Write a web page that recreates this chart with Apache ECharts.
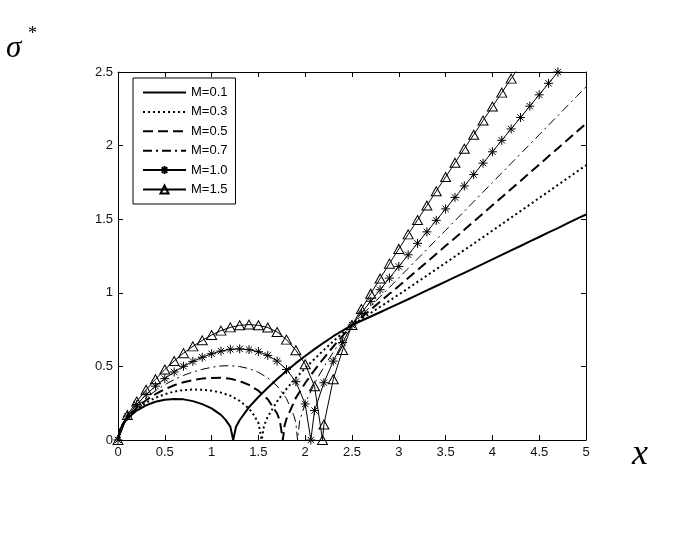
<!DOCTYPE html>
<html><head><meta charset="utf-8">
<script src="https://cdn.jsdelivr.net/npm/echarts@6/dist/echarts.min.js"></script>
<style>html,body{margin:0;padding:0;background:#fff}#c{width:685px;height:536px}</style>
</head><body><div id="c"></div>
<script>
// ---- data: [x, sigma*] ----
const seriesNames = ['M=0.1', 'M=0.3', 'M=0.5', 'M=0.7', 'M=1.0', 'M=1.5'];
const m01 = [[0,0],[0.02,0.066],[0.05,0.104],[0.1,0.147],[0.2,0.200],[0.3,0.235],[0.4,0.260],[0.5,0.274],[0.6,0.279],[0.7,0.276],[0.8,0.264],[0.9,0.244],[1.0,0.215],[1.1,0.171],[1.15,0.137],[1.2,0.091],[1.231,0],[1.26,0.088],[1.3,0.136],[1.4,0.223],[1.5,0.292],[1.6,0.355],[1.7,0.414],[1.8,0.469],[1.9,0.522],[2.0,0.571],[2.1,0.617],[2.2,0.662],[2.3,0.705],[2.4,0.743],[2.5,0.781],[2.6,0.810],[2.7,0.839],[2.8,0.868],[2.9,0.897],[3.0,0.927],[3.1,0.956],[3.2,0.986],[3.3,1.016],[3.4,1.046],[3.5,1.076],[3.6,1.106],[3.7,1.136],[3.8,1.166],[3.9,1.196],[4.0,1.227],[4.1,1.257],[4.2,1.288],[4.3,1.318],[4.4,1.349],[4.5,1.379],[4.6,1.410],[4.7,1.440],[4.8,1.471],[4.9,1.502],[5.0,1.532]];
const m03 = [[0,0],[0.02,0.067],[0.05,0.106],[0.1,0.150],[0.2,0.210],[0.3,0.253],[0.4,0.287],[0.5,0.311],[0.6,0.329],[0.7,0.339],[0.8,0.343],[0.9,0.341],[1.0,0.335],[1.1,0.322],[1.2,0.301],[1.3,0.266],[1.4,0.213],[1.45,0.171],[1.5,0.116],[1.535,0],[1.56,0.098],[1.6,0.158],[1.7,0.263],[1.8,0.347],[1.9,0.421],[2.0,0.488],[2.1,0.551],[2.2,0.612],[2.3,0.671],[2.4,0.726],[2.5,0.781],[2.6,0.822],[2.7,0.863],[2.8,0.904],[2.9,0.946],[3.0,0.988],[3.1,1.031],[3.2,1.074],[3.3,1.117],[3.4,1.160],[3.5,1.203],[3.6,1.247],[3.7,1.291],[3.8,1.334],[3.9,1.378],[4.0,1.422],[4.1,1.466],[4.2,1.511],[4.3,1.555],[4.4,1.599],[4.5,1.644],[4.6,1.688],[4.7,1.733],[4.8,1.777],[4.9,1.822],[5.0,1.867]];
const m05 = [[0,0],[0.02,0.068],[0.05,0.108],[0.1,0.154],[0.2,0.219],[0.3,0.270],[0.4,0.311],[0.5,0.345],[0.6,0.372],[0.7,0.392],[0.8,0.407],[0.9,0.417],[1.0,0.422],[1.1,0.423],[1.2,0.416],[1.3,0.400],[1.4,0.374],[1.5,0.335],[1.6,0.277],[1.7,0.180],[1.73,0.129],[1.761,0],[1.78,0.100],[1.8,0.143],[1.9,0.286],[2.0,0.387],[2.1,0.475],[2.2,0.557],[2.3,0.635],[2.4,0.708],[2.5,0.781],[2.6,0.833],[2.7,0.886],[2.8,0.939],[2.9,0.993],[3.0,1.046],[3.1,1.101],[3.2,1.155],[3.3,1.209],[3.4,1.264],[3.5,1.319],[3.6,1.373],[3.7,1.428],[3.8,1.484],[3.9,1.539],[4.0,1.594],[4.1,1.649],[4.2,1.705],[4.3,1.760],[4.4,1.816],[4.5,1.871],[4.6,1.927],[4.7,1.982],[4.8,2.038],[4.9,2.094],[5.0,2.149]];
const m07 = [[0,0],[0.02,0.070],[0.05,0.111],[0.1,0.157],[0.2,0.228],[0.3,0.286],[0.4,0.334],[0.5,0.376],[0.6,0.410],[0.7,0.439],[0.8,0.462],[0.9,0.480],[1.0,0.494],[1.1,0.503],[1.2,0.505],[1.3,0.499],[1.4,0.485],[1.5,0.460],[1.6,0.422],[1.7,0.367],[1.8,0.282],[1.88,0.164],[1.9,0.118],[1.918,0],[1.94,0.128],[2.0,0.249],[2.1,0.385],[2.2,0.497],[2.3,0.597],[2.4,0.690],[2.5,0.781],[2.6,0.845],[2.7,0.909],[2.8,0.973],[2.9,1.037],[3.0,1.101],[3.1,1.166],[3.2,1.230],[3.3,1.295],[3.4,1.360],[3.5,1.425],[3.6,1.489],[3.7,1.554],[3.8,1.619],[3.9,1.684],[4.0,1.749],[4.1,1.814],[4.2,1.879],[4.3,1.944],[4.4,2.009],[4.5,2.074],[4.6,2.139],[4.7,2.204],[4.8,2.269],[4.9,2.334],[5.0,2.399]];
const m10 = [[0,0],[0.1,0.162],[0.2,0.241],[0.3,0.308],[0.4,0.366],[0.5,0.417],[0.6,0.462],[0.7,0.501],[0.8,0.534],[0.9,0.562],[1.0,0.586],[1.1,0.604],[1.2,0.616],[1.3,0.619],[1.4,0.614],[1.5,0.600],[1.6,0.575],[1.7,0.536],[1.8,0.479],[1.9,0.396],[2.0,0.245],[2.06,0],[2.1,0.200],[2.2,0.389],[2.3,0.536],[2.4,0.662],[2.5,0.781],[2.6,0.862],[2.7,0.942],[2.8,1.021],[2.9,1.100],[3.0,1.179],[3.1,1.258],[3.2,1.336],[3.3,1.414],[3.4,1.492],[3.5,1.570],[3.6,1.648],[3.7,1.726],[3.8,1.803],[3.9,1.881],[4.0,1.958],[4.1,2.036],[4.2,2.113],[4.3,2.191],[4.4,2.268],[4.5,2.345],[4.6,2.423],[4.7,2.500],[4.8,2.577]];
const m15 = [[0,0],[0.1,0.170],[0.2,0.261],[0.3,0.341],[0.4,0.413],[0.5,0.479],[0.6,0.537],[0.7,0.590],[0.8,0.636],[0.9,0.677],[1.0,0.713],[1.1,0.743],[1.2,0.765],[1.3,0.779],[1.4,0.784],[1.5,0.779],[1.6,0.764],[1.7,0.734],[1.8,0.682],[1.9,0.610],[2.0,0.515],[2.1,0.365],[2.185,0],[2.2,0.105],[2.3,0.413],[2.4,0.612],[2.5,0.781],[2.6,0.889],[2.7,0.994],[2.8,1.097],[2.9,1.198],[3.0,1.298],[3.1,1.397],[3.2,1.495],[3.3,1.593],[3.4,1.690],[3.5,1.787],[3.6,1.883],[3.7,1.979],[3.8,2.074],[3.9,2.170],[4.0,2.265],[4.1,2.360],[4.2,2.455],[4.3,2.549]];
const xRange = [0, 5, 0.5];
const yRange = [0, 2.5, 0.5];

const asterisk = 'path://M5,0L5,10M0,5L10,5M1.5,1.5L8.5,8.5M8.5,1.5L1.5,8.5';
const FONT = 'Liberation Sans, Arial, sans-serif';

const chart = echarts.init(document.getElementById('c'), null, {renderer: 'canvas'});
const tickCommon = {show: true, inside: true, length: 5, lineStyle: {color: '#000', width: 1}};
const lineCommon = {show: true, onZero: false, lineStyle: {color: '#000', width: 1}};
function lineSeries(name, data, lineStyle, extra) {
  return Object.assign({
    name: name, type: 'line', data: data, xAxisIndex: 0, yAxisIndex: 0,
    symbol: 'none', clip: true, smooth: false,
    lineStyle: Object.assign({color: '#000'}, lineStyle),
    itemStyle: {color: '#000'},
    emphasis: {disabled: true}
  }, extra || {});
}
const hiddenMark = {color: 'rgba(0,0,0,0)', borderColor: 'rgba(0,0,0,0)', borderWidth: 0, opacity: 0};
chart.setOption({
  animation: false,
  backgroundColor: '#fff',
  grid: {left: 118, right: 99, top: 72, bottom: 96, containLabel: false},
  xAxis: [
    {type: 'value', min: xRange[0], max: xRange[1], interval: xRange[2], position: 'bottom',
     axisLine: lineCommon, axisTick: tickCommon, splitLine: {show: false},
     axisLabel: {color: '#111', fontSize: 13, fontFamily: FONT, margin: 6}},
    {type: 'value', min: xRange[0], max: xRange[1], interval: xRange[2], position: 'top',
     axisLine: lineCommon, axisTick: tickCommon, splitLine: {show: false}, axisLabel: {show: false}}
  ],
  yAxis: [
    {type: 'value', min: yRange[0], max: yRange[1], interval: yRange[2], position: 'left',
     axisLine: lineCommon, axisTick: tickCommon, splitLine: {show: false},
     axisLabel: {color: '#111', fontSize: 13, fontFamily: FONT, margin: 5}},
    {type: 'value', min: yRange[0], max: yRange[1], interval: yRange[2], position: 'right',
     axisLine: lineCommon, axisTick: tickCommon, splitLine: {show: false}, axisLabel: {show: false}}
  ],
  legend: {
    orient: 'vertical', left: 133, top: 78,
    padding: [8, 8, 8, 9], itemGap: 6.4, itemWidth: 43, itemHeight: 10,
    backgroundColor: '#fff', borderColor: '#000', borderWidth: 1, borderRadius: 0,
    textStyle: {color: '#000', fontSize: 13, fontFamily: FONT, lineHeight: 10, padding: [0,0,0,0]},
    data: [
      {name: seriesNames[0], itemStyle: hiddenMark},
      {name: seriesNames[1], itemStyle: hiddenMark},
      {name: seriesNames[2], itemStyle: hiddenMark},
      {name: seriesNames[3], itemStyle: hiddenMark},
      {name: seriesNames[4]},
      {name: seriesNames[5]}
    ]
  },
  series: [
    lineSeries(seriesNames[0], m01, {width: 2, type: 'solid'}),
    lineSeries(seriesNames[1], m03, {width: 2, type: [2, 3]}),
    lineSeries(seriesNames[2], m05, {width: 2, type: [10, 5]}),
    lineSeries(seriesNames[3], m07, {width: 1, type: [9, 4, 2, 4]}),
    lineSeries(seriesNames[4], m10, {width: 1, type: 'solid'},
      {symbol: asterisk, symbolSize: 9, showSymbol: true,
       itemStyle: {color: 'rgba(0,0,0,0)', borderColor: '#000', borderWidth: 1}}),
    lineSeries(seriesNames[5], m15, {width: 1, type: 'solid'},
      {symbol: 'triangle', symbolSize: [10, 9], showSymbol: true,
       itemStyle: {color: 'rgba(0,0,0,0)', borderColor: '#000', borderWidth: 1}})
  ],
  graphic: [
    {type: 'text', left: 6, top: 33, style: {text: 'σ', font: 'italic 31px "Liberation Serif", "Times New Roman", serif', fill: '#000'}},
    {type: 'text', left: 28, top: 25, style: {text: '*', font: '18px "Liberation Serif", "Times New Roman", serif', fill: '#000'}},
    {type: 'text', left: 632, top: 437, style: {text: 'x', font: 'italic 36px "Liberation Serif", "Times New Roman", serif', fill: '#000'}}
  ]
});
</script></body></html>
